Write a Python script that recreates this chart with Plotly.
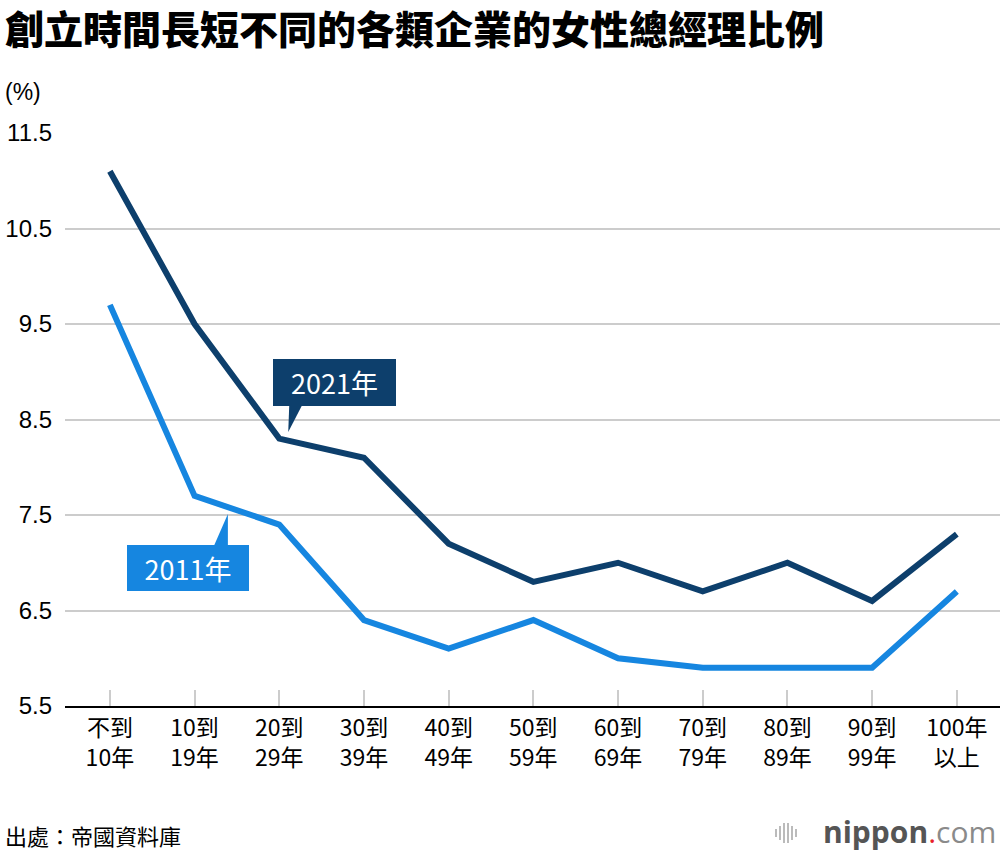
import plotly.graph_objects as go

categories = ["不到<br>10年", "10到<br>19年", "20到<br>29年", "30到<br>39年", "40到<br>49年",
              "50到<br>59年", "60到<br>69年", "70到<br>79年", "80到<br>89年", "90到<br>99年", "100年<br>以上"]
values_2021 = [11.1, 9.5, 8.3, 8.1, 7.2, 6.8, 7.0, 6.7, 7.0, 6.6, 7.3]
values_2011 = [9.7, 7.7, 7.4, 6.4, 6.1, 6.4, 6.0, 5.9, 5.9, 5.9, 6.7]
y_ticks = [5.5, 6.5, 7.5, 8.5, 9.5, 10.5, 11.5]

C2021 = "#0d3f6c"
C2011 = "#1686e0"
CJK = "Noto Sans CJK TC"

W, H = 1000, 856
ML, MR, MT, MB = 65, 0, 133, 150

def px_to_paper(px, py):
    pw = W - ML - MR
    ph = H - MT - MB
    return (px - ML) / pw, 1 - (py - MT) / ph

xs = list(range(len(categories)))

fig = go.Figure()
fig.add_trace(go.Scatter(x=xs, y=values_2011, mode="lines", line=dict(color=C2011, width=6),
                         showlegend=False, hoverinfo="skip"))
fig.add_trace(go.Scatter(x=xs, y=values_2021, mode="lines", line=dict(color=C2021, width=6),
                         showlegend=False, hoverinfo="skip"))

fig.update_layout(
    width=W, height=H,
    margin=dict(l=ML, r=MR, t=MT, b=MB, autoexpand=False),
    paper_bgcolor="white", plot_bgcolor="white",
    xaxis=dict(
        range=[-0.53, 10.51], tickmode="array", tickvals=xs, ticktext=categories,
        showgrid=False, zeroline=False, automargin=False,
        showline=True, linecolor="#000000", linewidth=2,
        ticks="inside", ticklen=16, tickwidth=2, tickcolor="#cccccc",
        tickfont=dict(family=CJK, size=23, color="#000000"),
    ),
    yaxis=dict(
        range=[5.5, 11.5], tickmode="array", tickvals=y_ticks,
        ticktext=[f"{v:.1f}" for v in y_ticks], automargin=False,
        showgrid=True, gridcolor="#cccccc", gridwidth=2, zeroline=False,
        showline=False, ticks="", ticklabelstandoff=12,
        tickfont=dict(family="Liberation Sans", size=24, color="#000000"),
    ),
)

# callout triangles
fig.add_shape(type="path", xref="x", yref="y",
              path="M 2.118 8.655 L 2.272 8.655 L 2.106 8.369 Z",
              fillcolor=C2021, line=dict(width=0))
fig.add_shape(type="path", xref="x", yref="y",
              path="M 1.228 7.175 L 1.393 7.175 L 1.393 7.510 Z",
              fillcolor=C2011, line=dict(width=0))

fig.add_annotation(x=2.65, y=8.887, xref="x", yref="y", text="2021年", showarrow=False,
                   font=dict(family=CJK, size=27, color="white"),
                   bgcolor=C2021, width=123, height=47, borderpad=0, borderwidth=0)
fig.add_annotation(x=0.92, y=6.945, xref="x", yref="y", text="2011年", showarrow=False,
                   font=dict(family=CJK, size=27, color="white"),
                   bgcolor=C2011, width=122, height=46, borderpad=0, borderwidth=0)

def add_text(px, py, text, font, xanchor="left"):
    x, y = px_to_paper(px, py)
    fig.add_annotation(x=x, y=y, xref="paper", yref="paper", text=text, showarrow=False,
                       xanchor=xanchor, yanchor="middle", font=font)

add_text(3, 27, "創立時間長短不同的各類企業的女性總經理比例",
         dict(family=CJK, size=39, color="#000000", weight=900))
add_text(3, 92, "(%)", dict(family="Liberation Sans", size=23, color="#000000"))
add_text(3, 835, "出處：帝國資料庫", dict(family=CJK, size=22, color="#000000"))
add_text(998, 832,
         "<b>nippon</b><span style='color:#e8202a'>.</span><span style='color:#8a8a8a'>com</span>",
         dict(family="Open Sans", size=30, color="#555555"), xanchor="right")

# logo bars
bar_x = [776, 780, 784, 788, 792, 796]
bar_h = [8, 14, 20, 20, 14, 8]
for bx, bh in zip(bar_x, bar_h):
    x0, y0 = px_to_paper(bx, 833 - bh / 2)
    x1, y1 = px_to_paper(bx, 833 + bh / 2)
    fig.add_shape(type="line", xref="paper", yref="paper", x0=x0, x1=x1, y0=y0, y1=y1,
                  line=dict(color="#aaaaaa", width=1.6))

fig.write_html("out.html", config={"displayModeBar": False},
               post_script="document.body.style.margin='0';document.body.style.padding='0';")
